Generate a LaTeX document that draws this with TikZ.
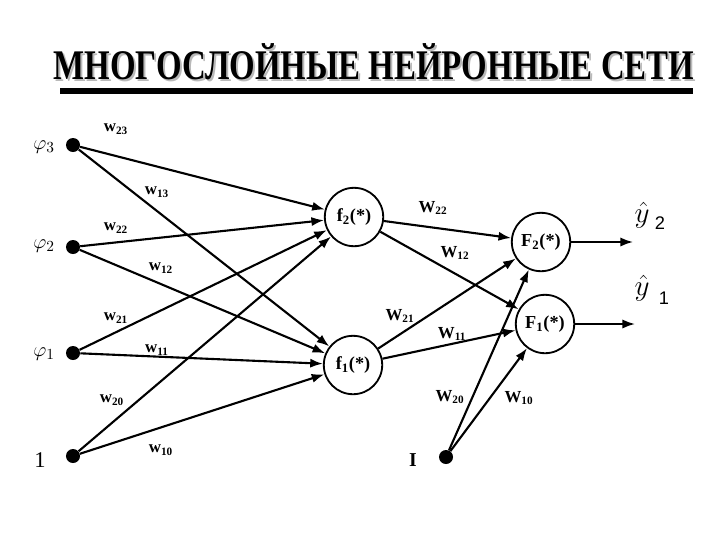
\documentclass[tikz,border=0pt]{standalone}
\usepackage{fontspec}
\setmainfont{Liberation Serif}
\newfontfamily\outsans{Liberation Sans}
\newfontfamily\titleserif{Liberation Serif}
\usetikzlibrary{arrows.meta,positioning}

\tikzset{
    inp/.style={circle,fill=black,inner sep=0pt,minimum size=0.35cm},
    neuron/.style={circle,draw,line width=1.3pt,minimum size=1.46cm,inner sep=0pt,
        font=\fontsize{13}{15}\selectfont\bfseries},
    syn/.style={line width=1.5pt,-{Latex[length=9pt,width=6.5pt]}},
    wt/.style={inner sep=0pt,font=\fontsize{12}{14}\selectfont\bfseries},
    lab/.style={inner sep=0pt,font=\fontsize{15}{17}\selectfont},
    ttl/.style={inner sep=0pt,font=\titleserif\fontsize{30}{33}\selectfont\bfseries},
}

\begin{document}
\begin{tikzpicture}[x=0.025cm,y=-0.025cm]
        \useasboundingbox (0,0) rectangle (720,540);
        % title
        \node[ttl,gray!55] (titleshadow) at (376,64)
            {\scalebox{0.78}[1]{МНОГОСЛОЙНЫЕ НЕЙРОННЫЕ СЕТИ}};
        \node[ttl] (title) at (374,62)
            {\scalebox{0.78}[1]{МНОГОСЛОЙНЫЕ НЕЙРОННЫЕ СЕТИ}};
        \fill (60,88) rectangle (693,94);
        % inputs
        \node[inp] (p3) at (73,145) {};
        \node[inp] (p2) at (73,247) {};
        \node[inp] (p1) at (73,353) {};
        \node[inp] (b1) at (73,456) {};
        \node[inp] (b2) at (446,457) {};
        \node[lab] (lp3) at (44,147) {$\varphi_3$};
        \node[lab] (lp2) at (44,246) {$\varphi_2$};
        \node[lab] (lp1) at (44,354) {$\varphi_1$};
        \node[lab,font=\fontsize{16}{18}\selectfont] (lb1) at (40,460) {1};
        \node[lab,font=\fontsize{14}{16}\selectfont\bfseries] (lb2) at (413,460) {I};
        % neurons
        \node[neuron] (f2) at (354,217) {f\textsubscript{2}(*)};
        \node[neuron] (f1) at (353,365) {f\textsubscript{1}(*)};
        \node[neuron] (F2) at (541,242) {F\textsubscript{2}(*)};
        \node[neuron] (F1) at (545,324) {F\textsubscript{1}(*)};
        \coordinate[right=1.55cm of F2.east] (y2);
        \coordinate[right=1.5cm of F1.east] (y1);
        % connections
        \foreach \s in {p3,p2,p1,b1} {
            \draw[syn] (\s) -- (f2);
            \draw[syn] (\s) -- (f1);
        }
        \foreach \s in {f2,f1,b2} {
            \draw[syn] (\s) -- (F2);
            \draw[syn] (\s) -- (F1);
        }
        \draw[syn] (F2) -- (y2);
        \draw[syn] (F1) -- (y1);
        \node[inner sep=0pt,font=\fontsize{22}{24}\selectfont] (ly2) at (642,215) {$\hat{y}$};
        \node[inner sep=0pt,font=\outsans\fontsize{13}{15}\selectfont] (ly2i) at (660,223) {2};
        \node[inner sep=0pt,font=\fontsize{22}{24}\selectfont] (ly1) at (642,288) {$\hat{y}$};
        \node[inner sep=0pt,font=\outsans\fontsize{13}{15}\selectfont] (ly1i) at (664,298) {1};
        % weights
        \node[wt] (w23) at (116,129) {w\textsubscript{23}};
        \node[wt] (w13) at (157,192) {w\textsubscript{13}};
        \node[wt] (w22) at (116,228) {w\textsubscript{22}};
        \node[wt] (w12) at (161,268) {w\textsubscript{12}};
        \node[wt] (w21) at (116,318) {w\textsubscript{21}};
        \node[wt] (w11) at (157,350) {w\textsubscript{11}};
        \node[wt] (w20) at (112,400) {w\textsubscript{20}};
        \node[wt] (w10) at (161,450) {w\textsubscript{10}};
        \node[wt] (W22) at (433,208) {W\textsubscript{22}};
        \node[wt] (W12) at (455,253) {W\textsubscript{12}};
        \node[wt] (W21) at (400,316) {W\textsubscript{21}};
        \node[wt] (W11) at (452,334) {W\textsubscript{11}};
        \node[wt] (W20) at (450,397) {W\textsubscript{20}};
        \node[wt] (W10) at (519,398) {W\textsubscript{10}};
\end{tikzpicture}
\end{document}
